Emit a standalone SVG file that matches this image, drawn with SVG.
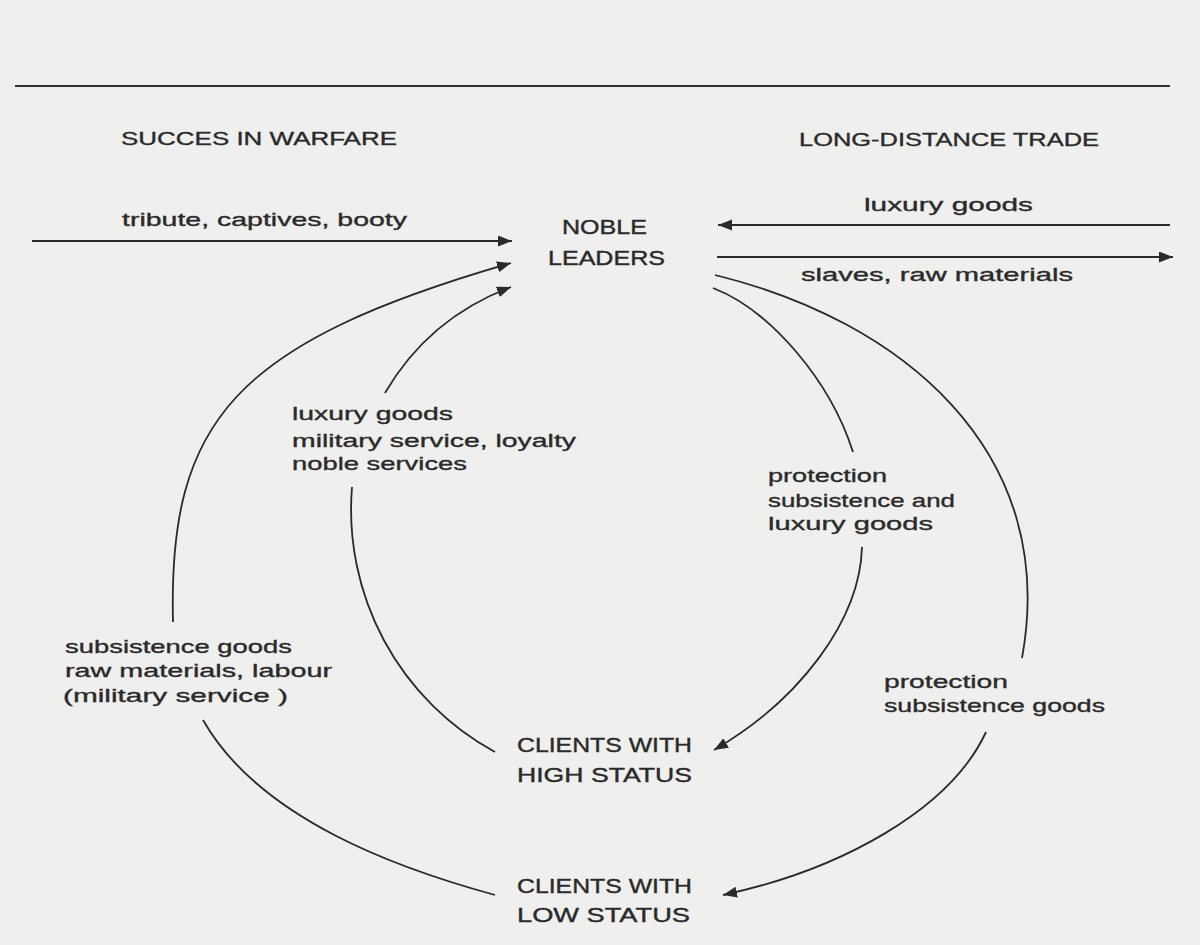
<svg xmlns="http://www.w3.org/2000/svg" width="1200" height="945" viewBox="0 0 1200 945">
<defs>
<marker id="ah" markerUnits="userSpaceOnUse" markerWidth="15" markerHeight="12" refX="14" refY="5.5" orient="auto">
<path d="M0,0 L14,5.5 L0,11 z" fill="#2a2a2a"/>
</marker>
<style>
.bg{fill:#efefee}
.rule{stroke:#333;stroke-width:2;fill:none}
.c{stroke:#2a2a2a;stroke-width:1.8;fill:none}
.a{stroke:#2a2a2a;stroke-width:1.8;fill:none;marker-end:url(#ah)}
.node{font-family:"Liberation Sans",Arial,sans-serif;font-size:21px;fill:#2a2a2a;stroke:#2a2a2a;stroke-width:0.4}
.head{font-family:"Liberation Sans",Arial,sans-serif;font-size:18.5px;fill:#2a2a2a;stroke:#2a2a2a;stroke-width:0.35}
.lbl{font-family:"Liberation Sans",Arial,sans-serif;font-size:19px;fill:#2a2a2a;stroke:#2a2a2a;stroke-width:0.35}
</style>
</defs>
<rect class="bg" x="0" y="0" width="1200" height="945"/>
<line class="rule" x1="15" y1="86" x2="1170" y2="86"/>

<g id="succes-in-warfare">
<text class="head" x="121" y="145" textLength="276" lengthAdjust="spacingAndGlyphs">SUCCES IN WARFARE</text>
</g>
<g id="long-distance-trade">
<text class="head" x="799" y="146" textLength="300" lengthAdjust="spacingAndGlyphs">LONG-DISTANCE TRADE</text>
</g>
<g id="noble-leaders">
<text class="node" x="562" y="234" textLength="85" lengthAdjust="spacingAndGlyphs">NOBLE</text>
<text class="node" x="548" y="265" textLength="117" lengthAdjust="spacingAndGlyphs">LEADERS</text>
</g>
<g id="clients-high-status">
<text class="node" x="517" y="752" textLength="175" lengthAdjust="spacingAndGlyphs">CLIENTS WITH</text>
<text class="node" x="517" y="782" textLength="175" lengthAdjust="spacingAndGlyphs">HIGH  STATUS</text>
</g>
<g id="clients-low-status">
<text class="node" x="517" y="893" textLength="175" lengthAdjust="spacingAndGlyphs">CLIENTS WITH</text>
<text class="node" x="517" y="922" textLength="173" lengthAdjust="spacingAndGlyphs">LOW  STATUS</text>
</g>

<g id="connectors">
<path class="a" d="M 32 241 L 512 241"/>
<path class="a" d="M 1170 225 L 718 225"/>
<path class="a" d="M 717 257 L 1173 257"/>
<!-- low status -> noble (outer left) -->
<path class="c" d="M 495 895 C 400 869, 260 820, 203 720"/>
<path class="a" d="M 173 622 C 168 420, 235 343, 511 263"/>
<!-- high status -> noble (inner left) -->
<path class="c" d="M 495 752 A 276 276 0 0 1 352 487"/>
<path class="a" d="M 385 393 C 410 350, 450 310, 511 287"/>
<!-- noble -> high status (inner right) -->
<path class="c" d="M 713 288 C 770 310, 830 380, 853 452"/>
<path class="a" d="M 862 547 C 860 620, 800 700, 714 750"/>
<!-- noble -> low status (outer right) -->
<path class="c" d="M 715 275 C 900 320, 1060 450, 1022 658"/>
<path class="a" d="M 986 732 C 950 810, 840 870, 723 895"/>
</g>

<g id="labels">
<text class="lbl" x="122" y="226" textLength="285" lengthAdjust="spacingAndGlyphs">tribute, captives, booty</text>
<text class="lbl" x="864" y="211" textLength="169" lengthAdjust="spacingAndGlyphs">luxury goods</text>
<text class="lbl" x="801" y="281" textLength="272" lengthAdjust="spacingAndGlyphs">slaves, raw materials</text>
<text class="lbl" x="292" y="420" textLength="161" lengthAdjust="spacingAndGlyphs">luxury goods</text>
<text class="lbl" x="292" y="447" textLength="284" lengthAdjust="spacingAndGlyphs">military service, loyalty</text>
<text class="lbl" x="292" y="470" textLength="175" lengthAdjust="spacingAndGlyphs">noble services</text>
<text class="lbl" x="65" y="653" textLength="227" lengthAdjust="spacingAndGlyphs">subsistence goods</text>
<text class="lbl" x="65" y="677" textLength="267" lengthAdjust="spacingAndGlyphs">raw materials, labour</text>
<text class="lbl" x="63" y="702" textLength="225" lengthAdjust="spacingAndGlyphs">(military service )</text>
<text class="lbl" x="768" y="482" textLength="119" lengthAdjust="spacingAndGlyphs">protection</text>
<text class="lbl" x="768" y="507" textLength="187" lengthAdjust="spacingAndGlyphs">subsistence and</text>
<text class="lbl" x="768" y="530" textLength="165" lengthAdjust="spacingAndGlyphs">luxury goods</text>
<text class="lbl" x="884" y="688" textLength="124" lengthAdjust="spacingAndGlyphs">protection</text>
<text class="lbl" x="884" y="712" textLength="221" lengthAdjust="spacingAndGlyphs">subsistence goods</text>
</g>
</svg>
